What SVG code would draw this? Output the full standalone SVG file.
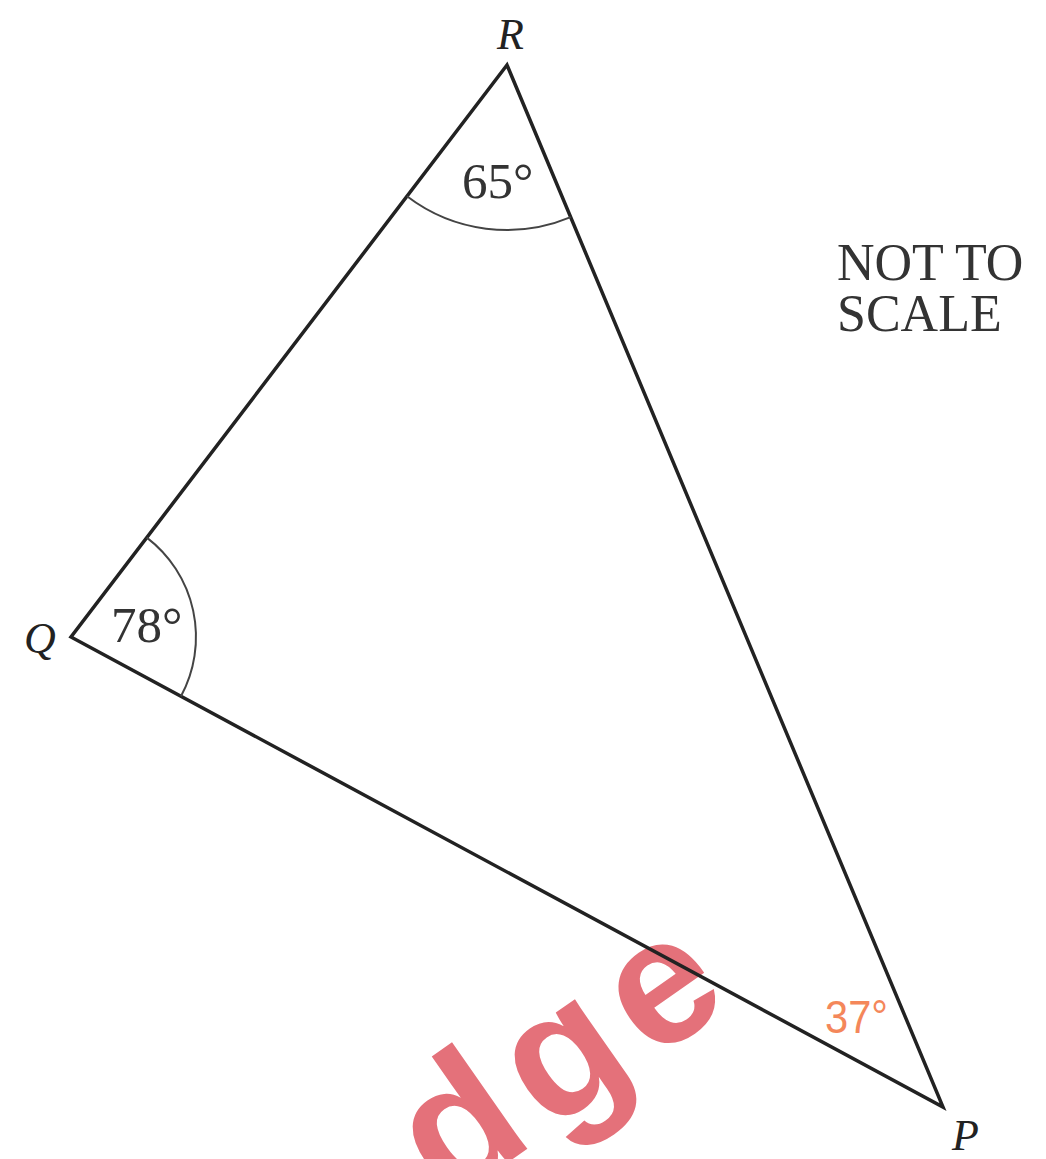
<svg xmlns="http://www.w3.org/2000/svg" width="1046" height="1159" viewBox="0 0 1046 1159">
<style>
.side{stroke:#222;stroke-width:3.5;fill:none;stroke-linecap:round;stroke-linejoin:miter}
.arc{stroke:#444;stroke-width:2;fill:none}
.lbl{font-family:"Liberation Serif","Times New Roman",serif;font-size:44px;font-style:italic;fill:#222}
.ang{font-family:"Liberation Serif","Times New Roman",serif;font-size:51px;fill:#333}
.note{font-family:"Liberation Serif","Times New Roman",serif;font-size:52px;fill:#333}
</style>
<rect width="1046" height="1159" fill="#fff"/>
<g id="watermark" transform="translate(447,1205) rotate(-35)">
<text x="0" y="0" font-family="'Liberation Sans',Arial,sans-serif" font-weight="bold" font-size="180" letter-spacing="15" fill="#e2656f" opacity="0.92">dge</text>
</g>
<g id="connectors">
<polygon class="side" points="507,65 71,637 943,1107"/>
<path class="arc" d="M146.8,537.6 A125,125 0 0 1 181,696.3"/>
<path class="arc" d="M407,196.2 A165,165 0 0 0 570.7,217.2"/>
</g>
<g id="node-R"><text class="lbl" x="497" y="49">R</text></g>
<g id="node-Q"><text class="lbl" x="24" y="653">Q</text></g>
<g id="node-P"><text class="lbl" x="952" y="1150">P</text></g>
<g id="angle-R"><text class="ang" x="462" y="198">65°</text></g>
<g id="angle-Q"><text class="ang" x="111" y="642">78°</text></g>
<g id="angle-P"><text x="825" y="1033" font-family="'Liberation Sans',Arial,sans-serif" font-size="47" fill="#f4875a" textLength="63" lengthAdjust="spacingAndGlyphs">37°</text></g>
<g id="note"><text class="note" x="837" y="280">NOT TO</text><text class="note" x="837" y="331">SCALE</text></g>
</svg>
